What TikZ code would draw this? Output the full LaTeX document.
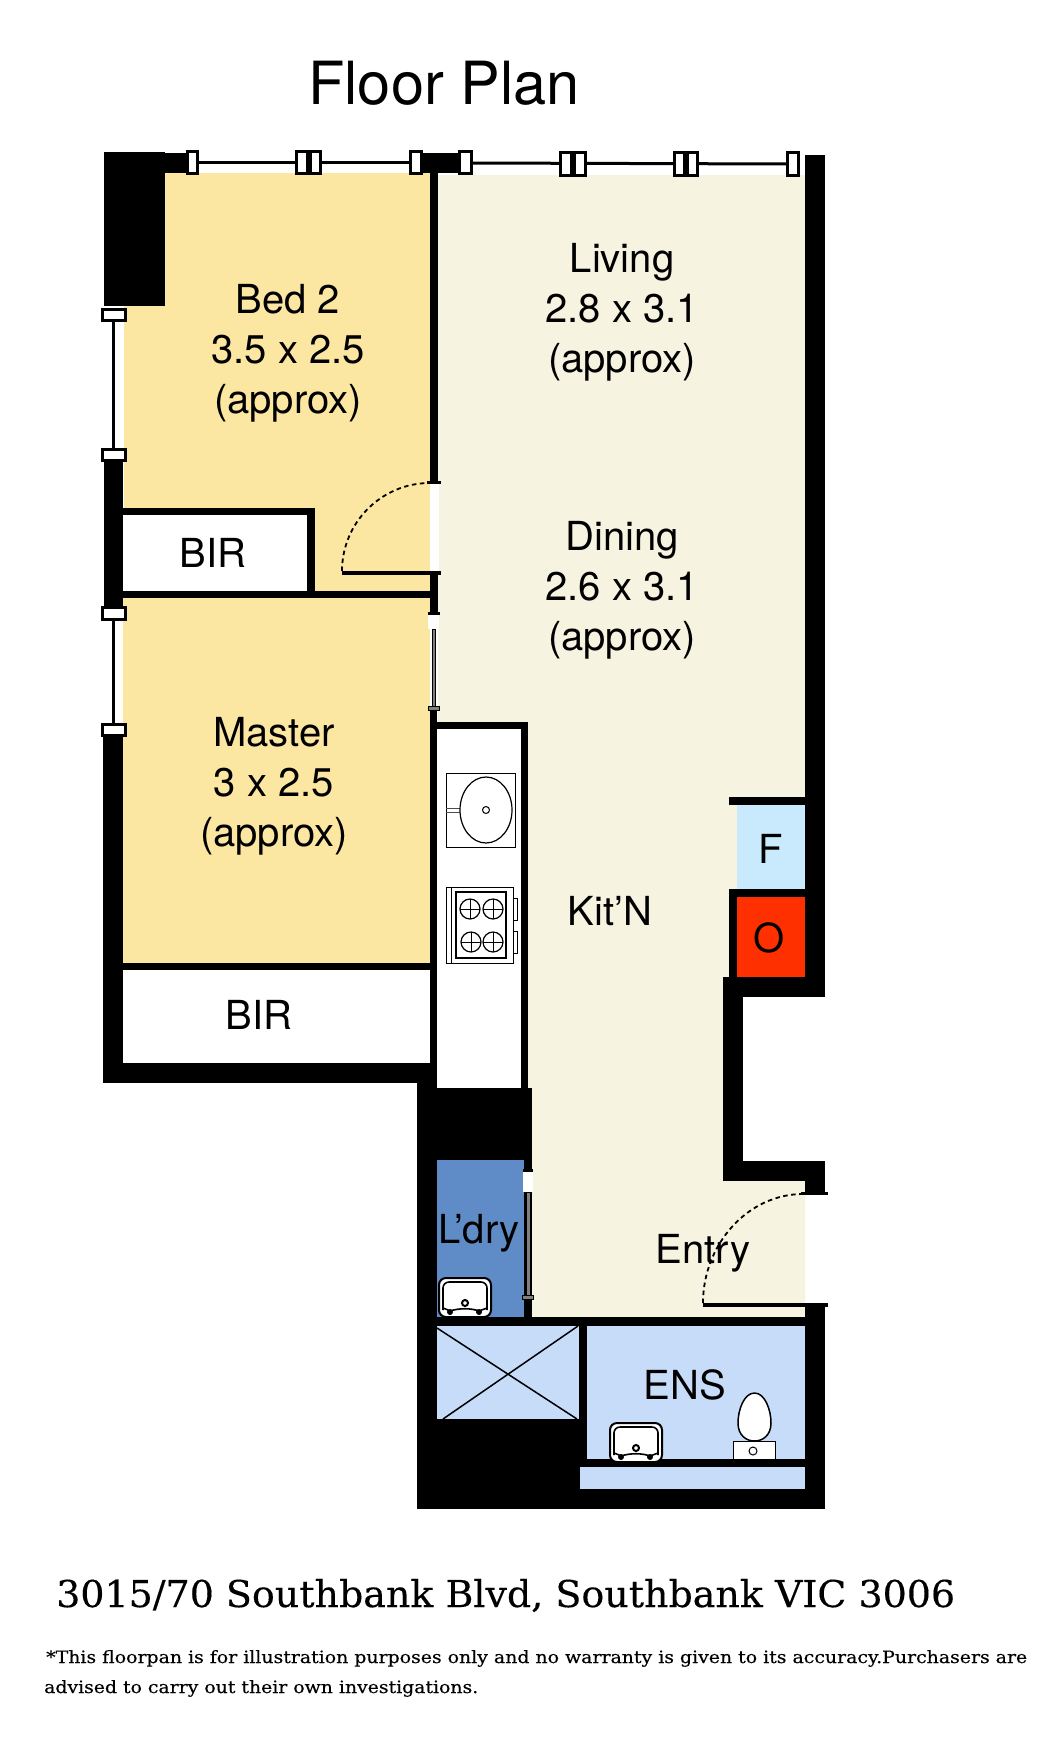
\documentclass[tikz,border=0pt]{standalone}
\usepackage{fontspec}
\setmainfont{TeX Gyre Heros}
\newfontfamily\slabfont[FakeBold=0.3]{DejaVu Serif}
\definecolor{bedyellow}{HTML}{FBE6A2}
\definecolor{creamroom}{HTML}{F7F3E1}
\definecolor{laundryblue}{HTML}{5F8CC6}
\definecolor{wetblue}{HTML}{C7DCF8}
\definecolor{fridgeblue}{HTML}{C9EAFD}
\definecolor{ovenred}{HTML}{FF3000}
\tikzset{
  wall/.style={fill=black},
  winbox/.style={draw=black,fill=white,line width=3pt},
  winline/.style={draw=black,line width=3pt},
  doorarc/.style={draw=black,line width=1.8pt,dash pattern=on 4.5pt off 3.5pt},
  label/.style={font=\fontsize{40}{50}\selectfont,inner sep=0pt,anchor=base},
  multi/.style={font=\fontsize{40}{50}\selectfont,inner sep=0pt,align=center,anchor=center},
  slider/.style={draw=black,fill=black!50,line width=1pt},
  fixture/.style={draw=black,line width=1pt,fill=white},
}
\newcommand{\basin}[2]{%
  \begin{scope}[shift={(#1,#2)}]
    \draw[fill=white,line width=2pt,rounded corners=7pt] (0,0) rectangle (52,39);
    \draw[line width=1.6pt,rounded corners=6pt] (4,32) -- (4,4) -- (48,4) -- (48,32);
    \draw[line width=1.6pt] (4,30) .. controls (7,31) and (9,32) .. (11,33) .. controls (20,30) and (32,30) .. (40,33) .. controls (43,32) and (45,31) .. (48,30);
    \draw[line width=2pt] (26,25) circle (3);
    \fill (11,34) circle (3);
    \fill (40,34) circle (3);
  \end{scope}}
\begin{document}
\begin{tikzpicture}[x=1pt,y=-1pt]
\useasboundingbox (0,0) rectangle (1044,1758);
\fill[white] (0,0) rectangle (1044,1758);
% room fills
\fill[bedyellow] (124,173) rectangle (430,598);
\fill[bedyellow] (123,598) rectangle (430,963);
\fill[creamroom] (438,175) -- (805,175) -- (805,797) -- (737,797) -- (737,977) -- (723,977) -- (723,1181) -- (805,1181) -- (805,1317) -- (532,1317) -- (532,1088) -- (528,1088) -- (528,722) -- (438,722) -- cycle;
\fill[fridgeblue] (737,805) rectangle (805,889);
\fill[ovenred] (737,897) rectangle (805,977);
% lower service block
\fill[wall] (417,1083) rectangle (437,1090);
\fill[wall] (417,1088) rectangle (532,1509);
\fill[wall] (532,1317) rectangle (825,1509);
\fill[laundryblue] (437,1160) rectangle (524,1317);
\fill[wetblue] (437,1326) rectangle (579,1419);
\fill[wetblue] (587,1326) rectangle (805,1459);
\fill[wetblue] (580,1467) rectangle (805,1489);
\fill[wall] (580,1459) rectangle (805,1467);
% walls
\fill[wall] (104,152) rectangle (165,306);
\fill[wall] (165,153) rectangle (188,173);
\fill[wall] (423,153) rectangle (459,173);
\fill[wall] (430,173) rectangle (438,483);
\fill[wall] (805,155) rectangle (825,997);
\fill[wall] (104,462) rectangle (123,607);
\fill[wall] (103,737) rectangle (123,1083);
\fill[wall] (103,1063) rectangle (437,1083);
\fill[wall] (430,573) rectangle (438,613);
\fill[wall] (430,710) rectangle (437,1083);
\fill[wall] (123,591) rectangle (430,598);
\fill[wall] (123,963) rectangle (430,970);
\fill[white] (123,970) rectangle (430,1063);
\fill[wall] (123,508) rectangle (315,515);
\fill[wall] (307,515) rectangle (315,591);
\fill[white] (123,515) rectangle (307,591);
% kitchen bench
\fill[white] (437,729) rectangle (521,1088);
\fill[wall] (437,722) rectangle (528,729);
\fill[wall] (521,729) rectangle (528,1088);
\fill[wall] (417,1088) rectangle (532,1090);
% fridge and oven walls
\fill[wall] (729,797) rectangle (805,805);
\fill[wall] (729,889) rectangle (805,897);
\fill[wall] (729,889) rectangle (737,977);
% entry alcove
\fill[wall] (723,977) rectangle (825,997);
\fill[wall] (723,977) rectangle (743,1181);
\fill[wall] (723,1161) rectangle (825,1181);
\fill[wall] (805,1161) rectangle (825,1193);
\fill[wall] (801,1192) rectangle (828,1195);
\fill[wall] (805,1307) rectangle (825,1320);
% internal wall between wet rooms
\fill[wall] (532,1317) rectangle (805,1326);
\fill[wall] (524,1297) rectangle (532,1317);
% window frames
\draw[winline] (188,162) -- (410,162);
\draw[winline] (472,163) -- (787,164);
\draw[winline] (113,322) -- (113,448);
\draw[winline] (113,621) -- (113,723);
\foreach \xa/\xb in {187.5/197.5,296.5/307,310/320.5,410.5/421.5,459.5/471.5}
  \draw[winbox] (\xa,151.5) rectangle (\xb,173.5);
\foreach \xa/\xb in {560.5/571,574/585.5,674.5/684.5,687.5/697.5,787.5/798.5}
  \draw[winbox] (\xa,152.5) rectangle (\xb,175.5);
\foreach \ya/\yb in {309.5/320.5,449.5/460.5,607.5/619.5,724.5/735.5}
  \draw[winbox] (102.5,\ya) rectangle (125.5,\yb);
% bedroom door
\fill[white] (430,484) rectangle (439,572);
\fill[wall] (427,481) rectangle (441,484);
\fill[wall] (342,571) rectangle (441,575);
\draw[doorarc] (342,571) .. controls (342,523) and (381,483) .. (430,483);
% master sliding door
\fill[wall] (428,612) rectangle (440,615);
\fill[white] (428,615) rectangle (439,629);
\draw[slider] (432.5,629) rectangle (435.5,707);
\draw[fill=black!50,line width=1pt] (428.5,706) rectangle (439.5,710);
% laundry sliding door
\fill[wall] (523,1169) rectangle (533,1172);
\fill[white] (523,1172) rectangle (533,1192);
\draw[slider] (526,1192) rectangle (530,1295);
\draw[fill=black!50,line width=1pt] (522.5,1295) rectangle (533,1299);
% entry door
\fill[wall] (703,1303) rectangle (828,1307);
\draw[doorarc] (703,1303) .. controls (703,1244) and (748,1194) .. (803,1194);
% shower cross
\draw[line width=1.5pt] (437,1328) -- (577,1419);
\draw[line width=1.5pt] (443,1419) -- (578,1326);
% kitchen sink
\draw[fixture] (446,773) rectangle (515,847);
\draw[line width=1pt,black!70] (446,808) -- (460,808);
\draw[line width=1pt,black!70] (446,812) -- (460,812);
\draw[line width=1.2pt] (486,810) ellipse (26 and 33);
\draw[line width=1pt] (486,810) circle (3.5);
% stove
\draw[fixture] (446,887) rectangle (513,963);
\draw[line width=1pt] (451,887) -- (451,963);
\draw[line width=1.4pt] (456,892) rectangle (506,958);
\draw[line width=1pt] (513,898) rectangle (517,920);
\draw[line width=1pt] (513,931) rectangle (517,953);
\foreach \bx/\by in {470/909,493/909,471/942,493/942}{
  \draw[line width=1.2pt] (\bx,\by) circle (10);
  \draw[line width=1pt] (\bx-10,\by) -- (\bx+10,\by);
  \draw[line width=1pt] (\bx,\by-10) -- (\bx,\by+10);
}
% basins
\basin{439}{1278}
\basin{610}{1423}
% toilet
\draw[fill=white,line width=1pt] (733,1441) rectangle (775,1459);
\draw[line width=1pt] (753,1451) circle (4);
\draw[fill=white,line width=1.5pt] (754.5,1393) .. controls (765,1393) and (771,1410) .. (771,1423) .. controls (771,1435) and (763,1441) .. (754.5,1441) .. controls (746,1441) and (738,1435) .. (738,1423) .. controls (738,1410) and (744,1393) .. (754.5,1393) -- cycle;
% labels
\node[font=\fontsize{59.5}{60}\selectfont,inner sep=0pt,anchor=base] (title) at (444,105) {Floor Plan};
\node[multi] (bedtwo) at (288,353) {Bed 2\\3.5 x 2.5\\(approx)};
\node[multi] (living) at (622,312) {Living\\2.8 x 3.1\\(approx)};
\node[multi] (dining) at (622,590) {Dining\\2.6 x 3.1\\(approx)};
\node[multi] (master) at (274,786) {Master\\3 x 2.5\\(approx)};
\node[label] (biro) at (213,567) {BIR};
\node[label] (birt) at (259,1029) {BIR};
\node[label] (kitn) at (610,925) {Kit’N};
\node[label] (ldry) at (479,1243) {L’dry};
\node[label] (entry) at (703,1263) {Entry};
\node[label] (ens) at (685,1399) {ENS};
\node[label] (fridge) at (771,863) {F};
\node[label] (oven) at (769,952) {O};
\node[inner sep=0pt,anchor=base west,font=\slabfont\fontsize{37}{40}\selectfont] (addr) at (56,1607) {\resizebox{899pt}{\height}{3015/70 Southbank Blvd, Southbank VIC 3006}};
\node[inner sep=0pt,anchor=base west,font=\slabfont\fontsize{17}{20}\selectfont] (noteone) at (46,1663) {\resizebox{981pt}{\height}{*This floorpan is for illustration purposes only and no warranty is given to its accuracy.Purchasers are}};
\node[inner sep=0pt,anchor=base west,font=\slabfont\fontsize{17}{20}\selectfont] (notetwo) at (44,1693) {\resizebox{434pt}{\height}{advised to carry out their own investigations.}};
\end{tikzpicture}
\end{document}
